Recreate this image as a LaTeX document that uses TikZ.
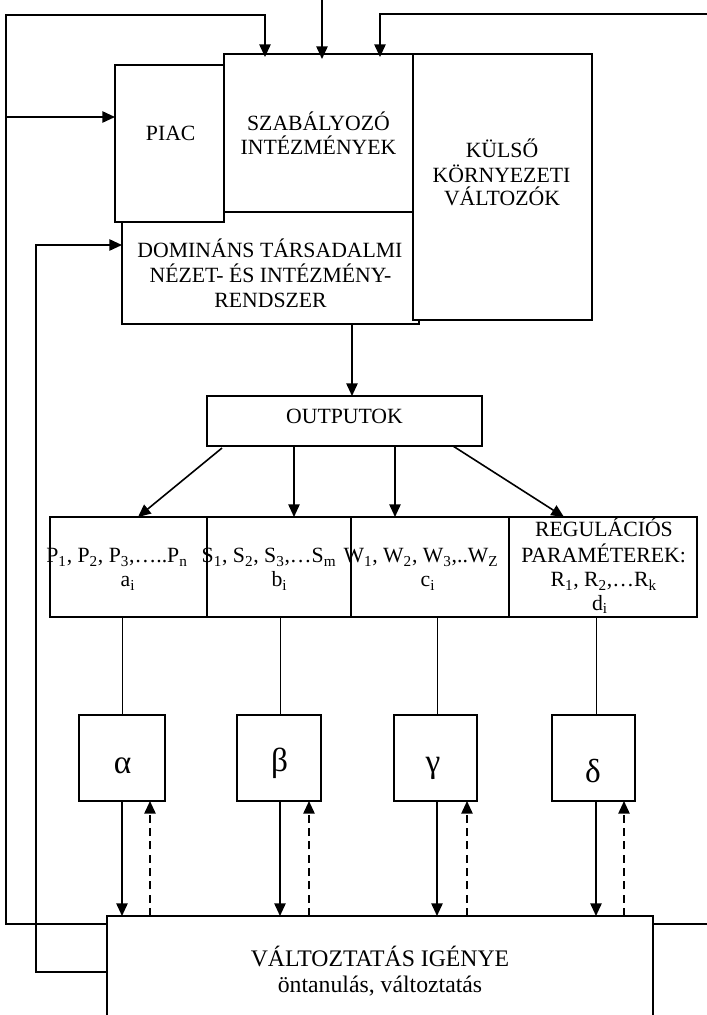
\documentclass[tikz,border=0pt]{standalone}
\usepackage{fontspec}
\setmainfont{Liberation Serif}
\usetikzlibrary{arrows.meta,calc}
\newcommand{\bx}[6][]{\node[box,#1,minimum width={(#5-#3)*0.75pt},minimum height={(#6-#4)*0.75pt}] (#2) at ({(#3+#5)/2},{(#4+#6)/2}) {};}
\begin{document}
\begin{tikzpicture}[x=0.75pt,y=-0.75pt,
  box/.style={draw,fill=white,line width=1.2pt,inner sep=0pt,outer sep=0pt},
  txt/.style={anchor=base,inner sep=0pt,font=\fontsize{16.3}{19}\selectfont},
  bigtxt/.style={anchor=base,inner sep=0pt,font=\fontsize{17.8}{22}\selectfont},
  greek/.style={anchor=base,inner sep=0pt,font=\fontsize{25}{28}\selectfont},
  arr/.style={line width=1.2pt,-{Triangle[length=9.5pt,width=8.5pt]}},
  darr/.style={line width=1.2pt,dash pattern=on 6pt off 4pt,-{Triangle[length=9.5pt,width=8.5pt]}},
  thin/.style={line width=0.8pt},
  thinner/.style={line width=0.6pt}]
\useasboundingbox (0,0) rectangle (707,1015);
% top block
\bx{dom}{122}{212}{419}{324}
\bx{piac}{115}{65}{224}{222}
\bx{szab}{224}{54}{413}{212}
\bx{kulso}{413}{54}{592}{320}
\node[txt] (tpiac) at (170.7,140) {PIAC};
\node[txt] (tsz1) at (318.5,130) {SZABÁLYOZÓ};
\node[txt] (tsz2) at (318.5,154) {INTÉZMÉNYEK};
\node[txt] (tk1) at (502,157) {KÜLSŐ};
\node[txt] (tk2) at (501.5,182) {KÖRNYEZETI};
\node[txt] (tk3) at (502,205) {VÁLTOZÓK};
\node[txt] (td1) at (270,257) {DOMINÁNS TÁRSADALMI};
\node[txt] (td2) at (270.5,282) {NÉZET- ÉS INTÉZMÉNY-};
\node[txt] (td3) at (270.5,307) {RENDSZER};
% outputs
\bx{out}{207}{396}{482}{446}
\node[txt] (tout) at (344.5,423.3) {OUTPUTOK};
% row
\bx{rp}{50}{517}{207}{617}
\bx{rs}{207}{517}{351}{617}
\bx{rw}{351}{517}{509}{617}
\bx{rr}{509}{517}{697}{617}
\node[txt] (tp1) at (117,562.7) {P\textsubscript{1}, P\textsubscript{2}, P\textsubscript{3},…..P\textsubscript{n}};
\node[txt] (tp2) at (128,586.7) {a\textsubscript{i}};
\node[txt] (ts1) at (269,562.7) {S\textsubscript{1}, S\textsubscript{2}, S\textsubscript{3},…S\textsubscript{m}};
\node[txt] (ts2) at (279.5,586.7) {b\textsubscript{i}};
\node[txt] (tw1) at (421,562.7) {W\textsubscript{1}, W\textsubscript{2}, W\textsubscript{3},..W\textsubscript{Z}};
\node[txt] (tw2) at (428,586.7) {c\textsubscript{i}};
\node[txt] (tr1) at (604,536.7) {REGULÁCIÓS};
\node[txt] (tr2) at (603.6,562.7) {PARAMÉTEREK:};
\node[txt] (tr3) at (603.7,586.7) {R\textsubscript{1}, R\textsubscript{2},…R\textsubscript{k}};
\node[txt] (tr4) at (600,610) {d\textsubscript{i}};
% greek boxes
\bx{ga}{79}{715}{165}{801}
\bx{gb}{237}{715}{321}{801}
\bx{gc}{394}{715}{477}{801}
\bx{gd}{552}{715}{635}{801}
\node[greek] (la) at (122.5,773) {α};
\node[greek] (lb) at (279.5,771) {β};
\node[greek] (lc) at (433,772) {γ};
\node[greek] (ld) at (593,782) {δ};
% change box
\bx{chg}{107}{916}{653}{1030}
\node[bigtxt] (tc1) at (380,966) {VÁLTOZTATÁS IGÉNYE};
\node[bigtxt] (tc2) at (380,992.7) {öntanulás, változtatás};
% coordinates
\coordinate (tc) at (322,0);
\coordinate (o1) at (6,924);
\coordinate (o2) at (265,15);
\coordinate (pa) at (6,117);
\coordinate (tr) at (707,14);
\coordinate (tr2) at (380,14);
\coordinate (re) at (707,924);
\coordinate (s1) at (36,972);
\coordinate (s2) at (36,245);
\coordinate (dx) at (352,0);
\coordinate (xa) at (222,0);
\coordinate (xb) at (138,0);
\coordinate (xc) at (294,0);
\coordinate (xd) at (395,0);
\coordinate (xe) at (453,0);
\coordinate (xf) at (564,0);
\coordinate (va) at (122,0);
\coordinate (vb) at (280,0);
\coordinate (vc) at (437,0);
\coordinate (vd) at (596,0);
\coordinate (da) at (150,0);
\coordinate (db) at (309,0);
\coordinate (dc) at (467,0);
\coordinate (dd) at (624,0);
% connectors top
\draw[arr] (tc) -- ($(tc |- szab.north)+(0,5)$);
\draw[arr] (chg.west |- o1) -- (o1) |- (o2) -- ($(o2 |- szab.north)+(0,3)$);
\draw[arr] (pa) -- (pa -| piac.west);
\draw[arr] (tr) -- (tr2) -- ($(tr2 |- szab.north)+(0,3)$);
\draw[thin] (chg.east |- re) -- (re);
\draw[arr] (chg.west |- s1) -- (s1) -- (s2) -- (s2 -| dom.west);
\draw[arr] (dx |- dom.south) -- (dx |- out.north);
% outputs to row
\draw[arr] ($(out.south -| xa)+(0,2)$) -- (rp.north -| xb);
\draw[arr] (out.south -| xc) -- (rs.north -| xc);
\draw[arr] (out.south -| xd) -- (rw.north -| xd);
\draw[arr] (out.south -| xe) -- (rr.north -| xf);
% row to greek
\draw[thinner] (rp.south -| va) -- (ga.north -| va);
\draw[thinner] (rs.south -| vb) -- (gb.north -| vb);
\draw[thinner] (rw.south -| vc) -- (gc.north -| vc);
\draw[thinner] (rr.south -| vd) -- (gd.north -| vd);
% greek to change
\draw[arr] (ga.south -| va) -- (chg.north -| va);
\draw[arr] (gb.south -| vb) -- (chg.north -| vb);
\draw[arr] (gc.south -| vc) -- (chg.north -| vc);
\draw[arr] (gd.south -| vd) -- (chg.north -| vd);
\draw[darr] (chg.north -| da) -- (ga.south -| da);
\draw[darr] (chg.north -| db) -- (gb.south -| db);
\draw[darr] (chg.north -| dc) -- (gc.south -| dc);
\draw[darr] (chg.north -| dd) -- (gd.south -| dd);
\end{tikzpicture}
\end{document}
